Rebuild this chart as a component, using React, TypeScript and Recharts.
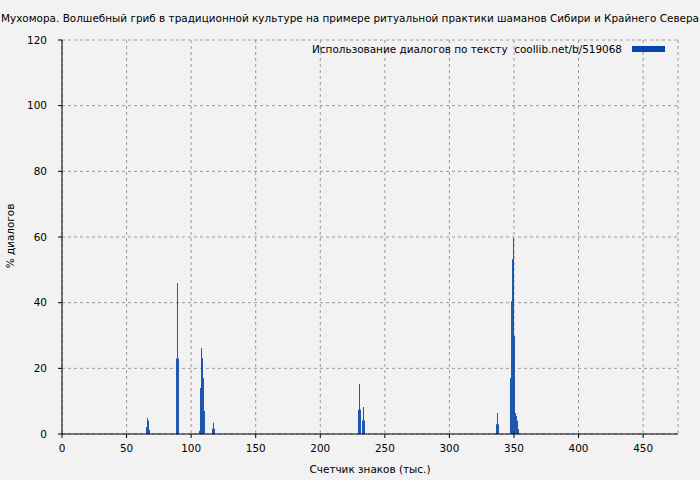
import React from 'react';
import { BarChart, Bar, XAxis, YAxis, CartesianGrid, Legend } from 'recharts';

const title =
  'Мухомора. Волшебный гриб в традиционной культуре на примере ритуальной практики шаманов Сибири и Крайнего Севера';
const seriesName = 'Использование диалогов по тексту  coollib.net/b/519068';
const xLabel = 'Счетчик знаков (тыс.)';
const yLabel = '% диалогов';

const xTicks = [0, 50, 100, 150, 200, 250, 300, 350, 400, 450];
const yTicks = [0, 20, 40, 60, 80, 100, 120];

// position in text (thousands of characters)
const positions = [
  65.43, 66.21, 66.98, 67.76,
  88.66, 89.44, 90.21,
  106.47, 107.25, 108.02, 108.8, 109.57, 110.35,
  116.54, 117.31, 118.09,
  229.6, 230.37, 231.15,
  232.7, 233.47, 234.25,
  336.46, 337.23, 338.01,
  347.3, 348.07, 348.85, 349.62, 350.39, 351.17, 351.94, 352.72, 353.49,
];
// share of dialogue, %
const percents = [
  2.1, 4.9, 4.0, 1.2,
  23, 46, 23,
  1, 14, 26.2, 23.1, 17, 7,
  1.6, 3.4, 1.6,
  7.4, 15.2, 7.4,
  4.1, 8.2, 4.1,
  3.0, 6.4, 3.0,
  17, 40.4, 53.2, 59.6, 29.8, 6.4, 5.5, 4.0, 1.5,
];

const data = positions.map((x, i) => ({ x, y: percents[i] }));

const FONT = '"DejaVu Sans", Verdana, sans-serif';
const FS = 10.45;
const BLUE = '#0645ad';
const tickStyle = { fontSize: FS, fill: '#000', fontFamily: FONT };

const LegendBox = () => (
  <div
    style={{
      display: 'flex',
      alignItems: 'center',
      justifyContent: 'flex-end',
      fontFamily: FONT,
      fontSize: FS,
      color: '#000',
      whiteSpace: 'pre',
    }}
  >
    <span>{seriesName}</span>
    <span style={{ display: 'inline-block', width: 33, height: 6, background: BLUE, marginLeft: 10 }} />
  </div>
);

export default function App() {
  return (
    <div style={{ position: 'absolute', left: 0, top: 0, width: 700, height: 480, background: '#f2f2f2' }}>
      <div
        style={{
          position: 'absolute',
          left: -50,
          top: 12,
          width: 800,
          textAlign: 'center',
          fontFamily: FONT,
          fontSize: FS,
          whiteSpace: 'nowrap',
          color: '#000',
        }}
      >
        {title}
      </div>
      <div
        style={{
          position: 'absolute',
          left: 10 - 40,
          top: 237 - 7,
          width: 80,
          textAlign: 'center',
          transform: 'rotate(-90deg)',
          fontFamily: FONT,
          fontSize: FS,
          whiteSpace: 'nowrap',
          color: '#000',
        }}
      >
        {yLabel}
      </div>
      <div
        style={{
          position: 'absolute',
          left: 220,
          top: 463,
          width: 300,
          textAlign: 'center',
          fontFamily: FONT,
          fontSize: FS,
          whiteSpace: 'nowrap',
          color: '#000',
        }}
      >
        {xLabel}
      </div>
      <BarChart
        width={700}
        height={480}
        data={data}
        margin={{ top: 40, right: 22, left: 0, bottom: 0 }}
        barCategoryGap={0}
        barGap={0}
        style={{ position: 'absolute', left: 0, top: 0 }}
      >
        <CartesianGrid stroke="#999" strokeDasharray="3 3" />
        <XAxis
          dataKey="x"
          type="number"
          domain={[0, 477]}
          ticks={xTicks}
          allowDataOverflow
          height={46}
          tickSize={4}
          tickMargin={7}
          tick={tickStyle}
          axisLine={{ stroke: '#000' }}
          tickLine={{ stroke: '#000' }}
          interval={0}
        />
        <XAxis
          xAxisId="top"
          orientation="top"
          type="number"
          domain={[0, 477]}
          height={0}
          tick={false}
          tickLine={false}
          axisLine={{ stroke: '#000' }}
        />
        <YAxis
          type="number"
          domain={[0, 120]}
          ticks={yTicks}
          width={62}
          tickSize={4}
          tickMargin={11}
          tick={tickStyle}
          axisLine={{ stroke: '#000' }}
          tickLine={{ stroke: '#000' }}
          interval={0}
        />
        <YAxis
          yAxisId="right"
          orientation="right"
          type="number"
          domain={[0, 120]}
          width={0}
          tick={false}
          tickLine={false}
          axisLine={{ stroke: '#000' }}
        />
        <Legend
          layout="horizontal"
          verticalAlign="middle"
          align="center"
          content={() => <LegendBox />}
          wrapperStyle={{ top: 43, left: 200, right: 'auto', width: 465, height: 14, bottom: 'auto' }}
        />
        <Bar dataKey="y" name={seriesName} fill={BLUE} barSize={1} isAnimationActive={false} />
      </BarChart>
    </div>
  );
}
